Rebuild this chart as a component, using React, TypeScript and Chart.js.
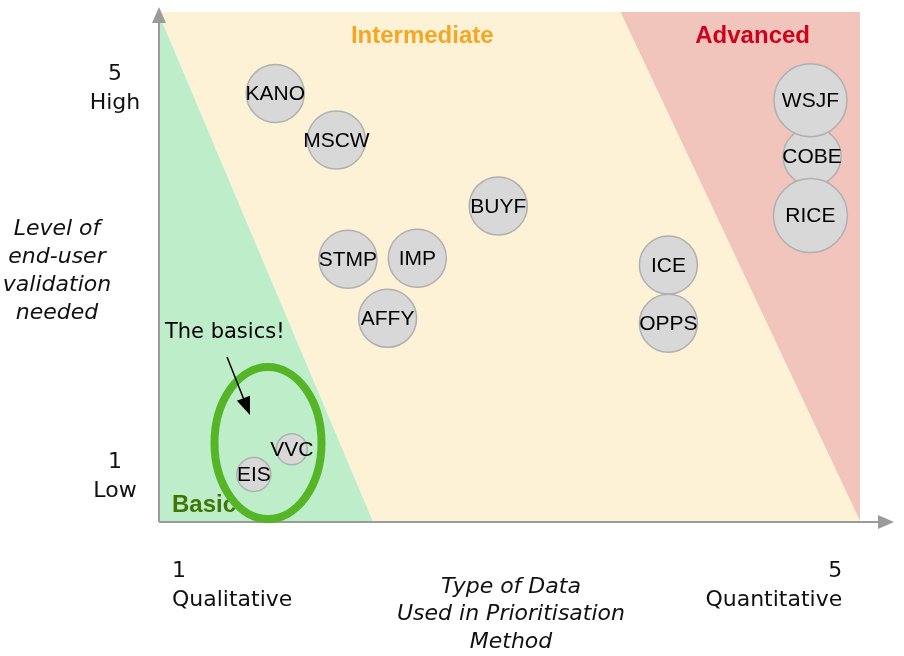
import React, { useEffect, useRef } from "react";
import { Chart, registerables } from "chart.js";

Chart.register(...registerables);

// ---- data ----
// drawn in this order (COBE first so WSJF / RICE overlap it)
const methodNames = ["COBE", "KANO", "MSCW", "BUYF", "STMP", "IMP", "AFFY", "ICE", "OPPS", "WSJF", "RICE", "VVC", "EIS"];
const dataTypeScores = [4.86, 1.61, 1.98, 2.96, 2.05, 2.47, 2.29, 3.99, 3.99, 4.85, 4.85, 1.71, 1.48];
const validationScores = [4.31, 4.96, 4.48, 3.8, 3.25, 3.26, 2.64, 3.19, 2.59, 4.89, 3.7, 1.29, 1.03];
const bubbleSizes = [29, 29, 29, 29, 29, 29, 29, 29, 29, 36.5, 37, 15.5, 17];

const xRange = [0.9, 5.15];
const yRange = [0.55, 5.8];

const xTickValues = [1, 5];
const xTickLabels = [["1", "Qualitative"], ["5", "Quantitative"]];
const yTickValues = [1, 5];
const yTickLabels = [["1", "Low"], ["5", "High"]];
const xTitle = ["Type of Data", "Used in Prioritisation", "Method"];
const yTitle = ["Level of", "end-user", "validation", "needed"];

// zones (polygons in data units)
const basicZoneX = [0.9, 2.2, 0.9];
const basicZoneY = [5.8, 0.55, 0.55];
const intermediateZoneX = [0.9, 3.7, 5.15, 2.2];
const intermediateZoneY = [5.8, 5.8, 0.55, 0.55];
const advancedZoneX = [3.7, 5.15, 5.15];
const advancedZoneY = [5.8, 5.8, 0.55];
const zoneNames = ["Basic", "Intermediate", "Advanced"];
const zoneLabelX = [0.985, 2.5, 4.5];
const zoneLabelY = [0.715, 5.55, 5.55];

// annotation
const noteText = "The basics!";
const notePos = [0.942, 2.49];
const arrowFrom = [1.318, 2.241];
const arrowTo = [1.457, 1.643];
const ringCenter = [1.566, 1.354];

const AXIS_FONT = "'DejaVu Sans', sans-serif";
const LABEL_FONT = "'Liberation Sans', Arial, Helvetica, sans-serif";

const zonesPlugin = {
  id: "zones",
  beforeDatasetsDraw(chart: any) {
    const { ctx, scales, chartArea } = chart;
    const x = scales.x, y = scales.y;
    const zones = [
      { xs: intermediateZoneX, ys: intermediateZoneY, color: "#fdf2d6" },
      { xs: basicZoneX, ys: basicZoneY, color: "#bdeec9" },
      { xs: advancedZoneX, ys: advancedZoneY, color: "#f1c4bc" },
    ];
    ctx.save();
    zones.forEach((z) => {
      ctx.beginPath();
      z.xs.forEach((v, i) => {
        const px = x.getPixelForValue(v);
        const py = y.getPixelForValue(z.ys[i]);
        if (i === 0) ctx.moveTo(px, py);
        else ctx.lineTo(px, py);
      });
      ctx.closePath();
      ctx.fillStyle = z.color;
      ctx.fill();
    });

    // zone labels
    const zoneColors = ["#417505", "#f5a623", "#d0021b"];
    const zoneAlign = ["left", "center", "center"];
    ctx.font = `bold 24px ${LABEL_FONT}`;
    ctx.textBaseline = "middle";
    zoneNames.forEach((n, i) => {
      ctx.fillStyle = zoneColors[i];
      ctx.textAlign = zoneAlign[i];
      ctx.fillText(n, x.getPixelForValue(zoneLabelX[i]), y.getPixelForValue(zoneLabelY[i]));
    });

    // axes with arrows
    ctx.strokeStyle = "#9b9b9b";
    ctx.fillStyle = "#9b9b9b";
    ctx.lineWidth = 2;
    const ax = chartArea.left + 1;
    const ay = chartArea.bottom + 1;
    ctx.beginPath();
    ctx.moveTo(ax, ay);
    ctx.lineTo(ax, 20);
    ctx.moveTo(ax, ay);
    ctx.lineTo(880, ay);
    ctx.stroke();
    ctx.beginPath();
    ctx.moveTo(ax, 7);
    ctx.lineTo(ax - 7, 23);
    ctx.lineTo(ax + 7, 23);
    ctx.closePath();
    ctx.fill();
    ctx.beginPath();
    ctx.moveTo(894, ay);
    ctx.lineTo(878, ay - 7);
    ctx.lineTo(878, ay + 7);
    ctx.closePath();
    ctx.fill();
    ctx.restore();
  },
  afterDatasetsDraw(chart: any) {
    const { ctx, scales, chartArea } = chart;
    const x = scales.x, y = scales.y;
    ctx.save();
    // bubble labels
    const meta = chart.getDatasetMeta(0);
    ctx.font = `21px ${LABEL_FONT}`;
    ctx.fillStyle = "#000";
    ctx.textAlign = "center";
    ctx.textBaseline = "middle";
    meta.data.forEach((el: any, i: number) => {
      ctx.fillText(methodNames[i], el.x, el.y + 1);
    });

    // green ring
    ctx.strokeStyle = "#55b526";
    ctx.lineWidth = 8;
    ctx.beginPath();
    ctx.ellipse(x.getPixelForValue(ringCenter[0]), y.getPixelForValue(ringCenter[1]), 53.5, 76, 0, 0, Math.PI * 2);
    ctx.stroke();

    // note + arrow
    ctx.font = `21px ${AXIS_FONT}`;
    ctx.fillStyle = "#000";
    ctx.textAlign = "left";
    ctx.fillText(noteText, x.getPixelForValue(notePos[0]), y.getPixelForValue(notePos[1]));
    const x1 = x.getPixelForValue(arrowFrom[0]), y1 = y.getPixelForValue(arrowFrom[1]);
    const x2 = x.getPixelForValue(arrowTo[0]), y2 = y.getPixelForValue(arrowTo[1]);
    const ang = Math.atan2(y2 - y1, x2 - x1);
    const hl = 18, hw = 7;
    const bx = x2 - hl * Math.cos(ang), by = y2 - hl * Math.sin(ang);
    ctx.strokeStyle = "#000";
    ctx.lineWidth = 1.5;
    ctx.beginPath();
    ctx.moveTo(x1, y1);
    ctx.lineTo(bx, by);
    ctx.stroke();
    ctx.beginPath();
    ctx.moveTo(x2, y2);
    ctx.lineTo(bx + hw * Math.sin(ang), by - hw * Math.cos(ang));
    ctx.lineTo(bx - hw * Math.sin(ang), by + hw * Math.cos(ang));
    ctx.closePath();
    ctx.fillStyle = "#000";
    ctx.fill();

    // axis tick labels
    ctx.font = `22px ${AXIS_FONT}`;
    ctx.fillStyle = "#111";
    ctx.textBaseline = "middle";
    ctx.textAlign = "center";
    yTickValues.forEach((v, i) => {
      const py = y.getPixelForValue(v);
      ctx.fillText(yTickLabels[i][0], chartArea.left - 43, py - 15);
      ctx.fillText(yTickLabels[i][1], chartArea.left - 43, py + 14);
    });
    xTickValues.forEach((v, i) => {
      const px = x.getPixelForValue(v);
      if (i === 0) {
        ctx.textAlign = "left";
        ctx.fillText(xTickLabels[i][0], px - 2.5, chartArea.bottom + 50);
        ctx.fillText(xTickLabels[i][1], px - 2.5, chartArea.bottom + 79);
      } else {
        ctx.textAlign = "right";
        ctx.fillText(xTickLabels[i][0], px + 7, chartArea.bottom + 50);
        ctx.fillText(xTickLabels[i][1], px + 7, chartArea.bottom + 79);
      }
    });

    // axis titles
    ctx.font = `italic 22px ${AXIS_FONT}`;
    ctx.textAlign = "center";
    const midY = (chartArea.top + chartArea.bottom) / 2;
    yTitle.forEach((t, i) => {
      ctx.fillText(t, 57, midY + 5 + (i - 1.5) * 28);
    });
    const midX = (chartArea.left + chartArea.right) / 2;
    xTitle.forEach((t, i) => {
      ctx.fillText(t, midX + 2, chartArea.bottom + 66 + i * 27.5);
    });
    ctx.restore();
  },
};

export default function App() {
  const canvasRef = useRef<HTMLCanvasElement | null>(null);

  useEffect(() => {
    if (!canvasRef.current) return;
    const chart = new Chart(canvasRef.current, {
      type: "bubble",
      data: {
        datasets: [
          {
            data: methodNames.map((_, i) => ({ x: dataTypeScores[i], y: validationScores[i], r: bubbleSizes[i] })),
            backgroundColor: "#d8d8d8",
            borderColor: "#b0b0b0",
            borderWidth: 1.5,
            clip: false,
          },
        ],
      },
      options: {
        responsive: false,
        animation: false,
        layout: { autoPadding: false, padding: { left: 158, right: 44, top: 12, bottom: 135 } },
        scales: {
          x: { type: "linear", min: xRange[0], max: xRange[1], display: false },
          y: { type: "linear", min: yRange[0], max: yRange[1], display: false },
        },
        plugins: {
          legend: { display: false },
          tooltip: { enabled: false },
        },
        events: [],
      },
      plugins: [zonesPlugin],
    });
    return () => chart.destroy();
  }, []);

  return (
    <div style={{ position: "absolute", left: 0, top: 0, width: 904, height: 656, background: "#fff" }}>
      <canvas ref={canvasRef} width={904} height={656} style={{ width: 904, height: 656, display: "block" }} />
    </div>
  );
}
